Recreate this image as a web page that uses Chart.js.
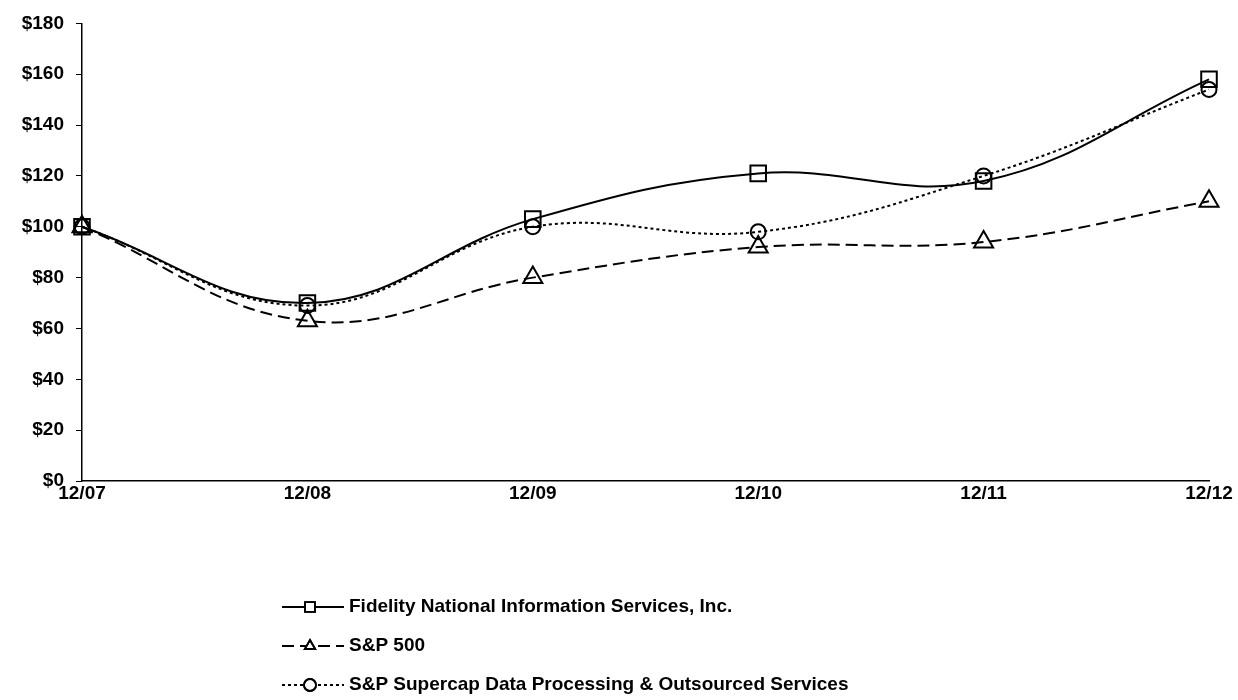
<!DOCTYPE html>
<html>
<head>
<meta charset="utf-8">
<script src="https://cdn.jsdelivr.net/npm/chart.js@4/dist/chart.umd.min.js"></script>
<style>
  body { margin: 0; background: #fff; }
  #wrap { width: 1238px; height: 700px; }
</style>
</head>
<body>
<div id="wrap"><canvas id="myChart" width="1238" height="700"></canvas></div>
<script>
var labels = ["12/07", "12/08", "12/09", "12/10", "12/11", "12/12"];
var fisValues = [100, 70, 103, 121, 118, 158];
var spValues = [100, 63, 80, 92, 94, 110];
var supercapValues = [100, 69, 100, 98, 120, 154];
var seriesNames = [
  "Fidelity National Information Services, Inc.",
  "S&P 500",
  "S&P Supercap Data Processing & Outsourced Services"
];
var yTicks = [0, 20, 40, 60, 80, 100, 120, 140, 160, 180];

var font = "Liberation Sans, Arial, sans-serif";

function makeSet(name, data, style, dash, width, radius) {
  return {
    label: name,
    data: data,
    borderColor: "#000",
    backgroundColor: "#fff",
    borderWidth: width,
    borderDash: dash,
    tension: 0.4,
    pointStyle: style,
    pointRadius: radius,
    pointBorderWidth: 2,
    pointBorderColor: "#000",
    pointBackgroundColor: "rgba(255,255,255,0)",
    clip: false
  };
}

// legend drawn like the original: line sample with a marker, then bold text
var legendPlugin = {
  id: "lineLegend",
  afterDraw: function(chart) {
    var ctx = chart.ctx;
    var rows = [607, 646, 685];
    chart.data.datasets.forEach(function(ds, i) {
      var y = rows[i];
      ctx.save();
      ctx.strokeStyle = "#000";
      ctx.lineWidth = ds.borderWidth;
      ctx.setLineDash(ds.borderDash);
      ctx.beginPath();
      ctx.moveTo(282, y);
      ctx.lineTo(344, y);
      ctx.stroke();
      ctx.setLineDash([]);
      ctx.fillStyle = "#fff";
      ctx.lineWidth = 1.8;
      var r = ds.pointStyle === "rect" ? 7 : 6;
      Chart.helpers.drawPoint(ctx, { pointStyle: ds.pointStyle, radius: r, borderWidth: 1.8 }, 310, y);
      ctx.stroke();
      ctx.fillStyle = "#000";
      ctx.font = "bold 19px " + font;
      ctx.textBaseline = "middle";
      ctx.fillText(ds.label, 349, y);
      ctx.restore();
    });
  }
};

var ctx = document.getElementById("myChart").getContext("2d");
var myChart = new Chart(ctx, {
  type: "line",
  data: {
    labels: labels,
    datasets: [
      makeSet(seriesNames[0], fisValues, "rect", [], 2, 11),
      makeSet(seriesNames[1], spValues, "triangle", [12, 6], 2, 11),
      makeSet(seriesNames[2], supercapValues, "circle", [3, 3], 2, 7.5)
    ]
  },
  options: {
    responsive: false,
    animation: false,
    layout: { padding: { top: 23, right: 29, left: 0, bottom: 0 } },
    plugins: { legend: { display: false }, tooltip: { enabled: false } },
    scales: {
      x: {
        offset: false,
        grid: { display: true, drawOnChartArea: false, drawTicks: false, color: "#000" },
        border: { display: true, color: "#000", width: 1.5 },
        ticks: { color: "#000", font: { family: font, weight: "bold", size: 19 }, padding: 1, maxRotation: 0 },
        afterFit: function(s) { s.height = 219; }
      },
      y: {
        min: 0,
        max: 180,
        afterBuildTicks: function(s) { s.ticks = yTicks.map(function(v) { return { value: v }; }); },
        grid: { display: true, drawOnChartArea: false, drawTicks: true, tickLength: 6, color: "#000" },
        border: { display: true, color: "#000", width: 1.5 },
        ticks: {
          color: "#000",
          font: { family: font, weight: "bold", size: 19 },
          padding: 12,
          callback: function(v) { return "$" + v; }
        },
        afterFit: function(s) { s.width = 82; }
      }
    }
  },
  plugins: [legendPlugin]
});
</script>
</body>
</html>
